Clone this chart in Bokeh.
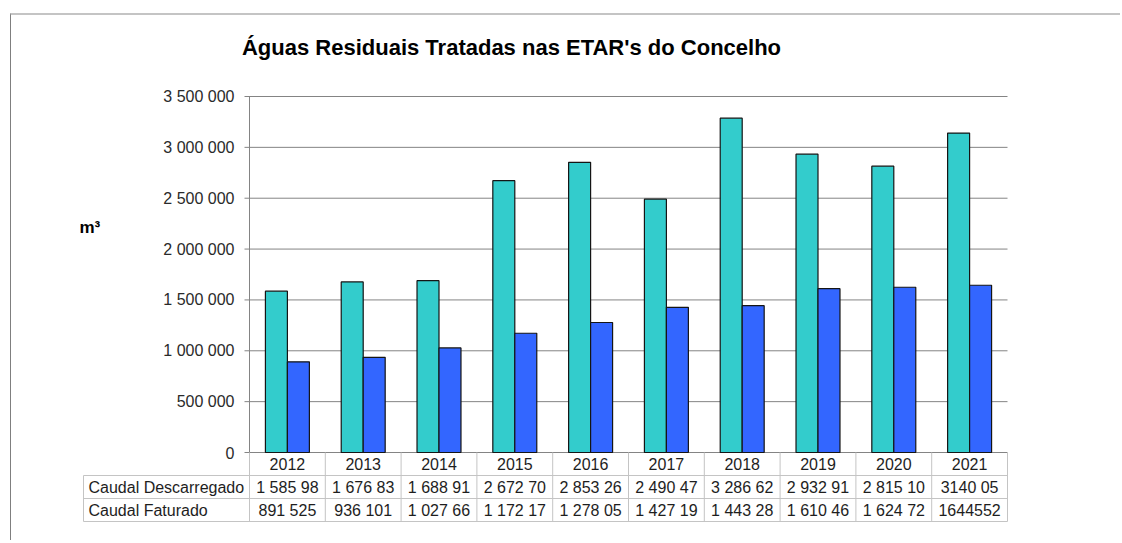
from bokeh.plotting import figure
from bokeh.models import Range1d
from bokeh.core.properties import value
from bokeh.embed import file_html
from bokeh.resources import INLINE

# ---------------- data ----------------
years = ["2012", "2013", "2014", "2015", "2016", "2017", "2018", "2019", "2020", "2021"]
caudal_descarregado = [1585980, 1676830, 1688910, 2672700, 2853260, 2490470,
                       3286620, 2932910, 2815100, 3140050]
caudal_faturado = [891525, 936101, 1027660, 1172170, 1278050, 1427190,
                   1443280, 1610460, 1624720, 1644552]
# table texts as shown (truncated in the original)
desc_labels = ["1 585 98", "1 676 83", "1 688 91", "2 672 70", "2 853 26",
               "2 490 47", "3 286 62", "2 932 91", "2 815 10", "3140 05"]
fat_labels = ["891 525", "936 101", "1 027 66", "1 172 17", "1 278 05",
              "1 427 19", "1 443 28", "1 610 46", "1 624 72", "1644552"]
row_names = ["Caudal Descarregado", "Caudal Faturado"]
y_ticks = [0, 500000, 1000000, 1500000, 2000000, 2500000, 3000000, 3500000]
title_text = "Águas Residuais Tratadas nas ETAR's do Concelho"
unit_text = "m³"

# ---------------- styling / layout constants ----------------
FONT = "Liberation Sans"
C_DESC = "#33CCCC"
C_FAT = "#3366FF"
GRID = "#848484"
TABLE_LINE = "#c4c4c4"
TEXT = "#1e1e1e"

W, H = 1110, 527            # canvas size (px)
AXIS_X_PX = 238             # y axis position on the canvas
ZERO_Y_PX = 437             # value 0 on the canvas (from top)
COL_PX = 75.8               # width of one year column
YMAX = 3500000
PLOT_H_PX = 356             # height of 0..YMAX
ROW_PX = 23                 # table row height
LABEL_COL_PX = 166          # width of the row-name column
BAR_W = 0.29

upp = YMAX / PLOT_H_PX      # value units per pixel
ncol = len(years)

p = figure(width=W, height=H,
           x_range=Range1d(-AXIS_X_PX / COL_PX, (W - AXIS_X_PX) / COL_PX),
           y_range=Range1d(-(H - ZERO_Y_PX) * upp, ZERO_Y_PX * upp),
           output_backend="svg", toolbar_location=None,
           x_axis_location=None, y_axis_location=None,
           min_border=0, min_border_left=0, min_border_right=0,
           min_border_top=0, min_border_bottom=0,
           margin=(13, 0, 0, 10),
           styles={"border-top": "2px solid #c4c4c4", "border-left": "1px solid #7f7f7f"})
p.outline_line_color = None
p.grid.grid_line_color = None

# ---------------- value axis (gridlines, ticks, labels) ----------------
tick_len = 5 / COL_PX
p.segment(x0=[-tick_len] * len(y_ticks), x1=[ncol] * len(y_ticks), y0=y_ticks, y1=y_ticks,
          line_color=GRID, line_width=1)
p.segment(x0=[0], x1=[0], y0=[0], y1=[YMAX], line_color=GRID, line_width=1)
tick_text = [f"{t:,}".replace(",", " ") for t in y_ticks]
p.text(x=[0] * len(y_ticks), y=y_ticks, text=tick_text, x_offset=-15,
       text_align="right", text_baseline="middle", text_font=value(FONT),
       text_font_size="16px", text_color="#2a2a2a")

# ---------------- bars ----------------
centers = [i + 0.5 for i in range(ncol)]
p.vbar(x=[c - BAR_W / 2 for c in centers], top=caudal_descarregado, bottom=0, width=BAR_W,
       fill_color=C_DESC, line_color="#151515", line_width=1.2)
p.vbar(x=[c + BAR_W / 2 for c in centers], top=caudal_faturado, bottom=0, width=BAR_W,
       fill_color=C_FAT, line_color="#151515", line_width=1.2)

# ---------------- data table ----------------
row = ROW_PX * upp
left_edge = -LABEL_COL_PX / COL_PX
ys_h = [-row, -2 * row, -3 * row]
p.segment(x0=[left_edge] * 3, x1=[ncol] * 3, y0=ys_h, y1=ys_h,
          line_color=TABLE_LINE, line_width=1)
xs = list(range(ncol + 1))
p.segment(x0=xs, x1=xs, y0=[0] * len(xs), y1=[-3 * row] * len(xs),
          line_color=TABLE_LINE, line_width=1)
p.segment(x0=[left_edge], x1=[left_edge], y0=[-row], y1=[-3 * row],
          line_color=TABLE_LINE, line_width=1)

txt = dict(text_align="center", text_baseline="middle", text_font=value(FONT),
           text_font_size="16px", text_color=TEXT)
p.text(x=centers, y=[-0.5 * row] * ncol, text=years, **txt)
p.text(x=centers, y=[-1.5 * row] * ncol, text=desc_labels, **txt)
p.text(x=centers, y=[-2.5 * row] * ncol, text=fat_labels, **txt)
p.text(x=[left_edge] * 2, y=[-1.5 * row, -2.5 * row], text=row_names, x_offset=5,
       text_align="left", text_baseline="middle", text_font=value(FONT),
       text_font_size="16px", text_color=TEXT)

# ---------------- title and unit ----------------
p.text(x=[(511 - 249) / COL_PX], y=[(ZERO_Y_PX - (47 - 15)) * upp], text=[title_text],
       text_align="center", text_baseline="alphabetic", text_font=value(FONT),
       text_font_size="22px", text_font_style="bold", text_color="#000000")
p.text(x=[(79 - 249) / COL_PX], y=[(ZERO_Y_PX - (227 - 15)) * upp], text=[unit_text],
       text_align="left", text_baseline="middle", text_font=value(FONT),
       text_font_size="17px", text_font_style="bold", text_color="#000000")

open("out.html", "w").write(file_html(p, INLINE))
